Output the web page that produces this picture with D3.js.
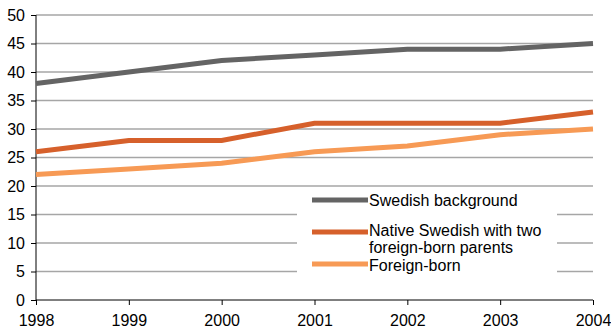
<!DOCTYPE html>
<html>
<head>
<meta charset="utf-8">
<script src="https://cdn.jsdelivr.net/npm/d3@7"></script>
<style>
  body { margin: 0; background: #fff; }
  text { font-family: "Liberation Sans", Arial, sans-serif; }
</style>
</head>
<body>
<div id="chart"></div>
<script>
var years = [1998, 1999, 2000, 2001, 2002, 2003, 2004];
var swedishBackground = [38, 40, 42, 43, 44, 44, 45];
var nativeSwedish = [26, 28, 28, 31, 31, 31, 33];
var foreignBorn = [22, 23, 24, 26, 27, 29, 30];
var yTicks = [0, 5, 10, 15, 20, 25, 30, 35, 40, 45, 50];

var seriesNames = ["Swedish background", "Native Swedish with two foreign-born parents", "Foreign-born"];
var seriesColors = ["#646464", "#d6602b", "#f79a55"];

var svgWidth = 611, svgHeight = 330;
var margin = { top: 15, right: 18, bottom: 30, left: 36 };
var width = svgWidth - margin.left - margin.right;
var height = svgHeight - margin.top - margin.bottom;

var svg = d3.select("#chart")
  .append("svg")
  .attr("width", svgWidth)
  .attr("height", svgHeight);

var chartGroup = svg.append("g")
  .attr("transform", `translate(${margin.left}, ${margin.top})`);

var xScale = d3.scalePoint()
  .domain(years)
  .range([0, width]);

var yScale = d3.scaleLinear()
  .domain([0, 50])
  .range([height, 0]);

// gridlines
chartGroup.append("g")
  .selectAll("line")
  .data(yTicks.filter(d => d > 0))
  .enter()
  .append("line")
  .attr("x1", 0)
  .attr("x2", width)
  .attr("y1", d => yScale(d))
  .attr("y2", d => yScale(d))
  .attr("stroke", "#a6a6a6")
  .attr("stroke-width", 1.5);

// axes
var leftAxis = d3.axisLeft(yScale).tickValues(yTicks).tickSize(5).tickPadding(6);
var bottomAxis = d3.axisBottom(xScale).tickSize(5).tickPadding(10);

var gy = chartGroup.append("g").call(leftAxis);
var gx = chartGroup.append("g")
  .attr("transform", `translate(0, ${height})`)
  .call(bottomAxis);

[gx, gy].forEach(function(g) {
  g.select(".domain").attr("stroke", "#000").attr("stroke-width", 1);
  g.selectAll(".tick line").attr("stroke", "#000");
  g.selectAll(".tick text")
    .attr("fill", "#000")
    .style("font-size", "16px")
    .style("font-family", "'Liberation Sans', Arial, sans-serif");
});
gy.select(".domain").attr("d", `M0,${height}V0`);
gx.select(".domain").attr("d", `M0,0H${width}`);

// lines
var allSeries = [swedishBackground, nativeSwedish, foreignBorn];
var line = d3.line()
  .x((d, i) => xScale(years[i]))
  .y(d => yScale(d));

chartGroup.selectAll(".series")
  .data(allSeries)
  .enter()
  .append("path")
  .attr("class", "series")
  .attr("fill", "none")
  .attr("stroke", (d, i) => seriesColors[i])
  .attr("stroke-width", 5)
  .attr("d", line);

// legend
var legend = svg.append("g").attr("transform", "translate(297, 188)");
legend.append("rect")
  .attr("width", 260)
  .attr("height", 100)
  .attr("fill", "#fff");

var legendY = [12, 44, 76];
seriesNames.forEach(function(name, i) {
  legend.append("line")
    .attr("x1", 15).attr("x2", 71)
    .attr("y1", legendY[i]).attr("y2", legendY[i])
    .attr("stroke", seriesColors[i])
    .attr("stroke-width", 5);
});

legend.append("text").attr("x", 72).attr("y", legendY[0] + 6)
  .style("font-size", "16px").text("Swedish background");
var t2 = legend.append("text").attr("x", 72).attr("y", legendY[1] + 4)
  .style("font-size", "16px");
t2.append("tspan").text("Native Swedish with two");
t2.append("tspan").attr("x", 72).attr("dy", 17).text("foreign-born parents");
legend.append("text").attr("x", 72).attr("y", legendY[2] + 7)
  .style("font-size", "16px").text("Foreign-born");
</script>
</body>
</html>
